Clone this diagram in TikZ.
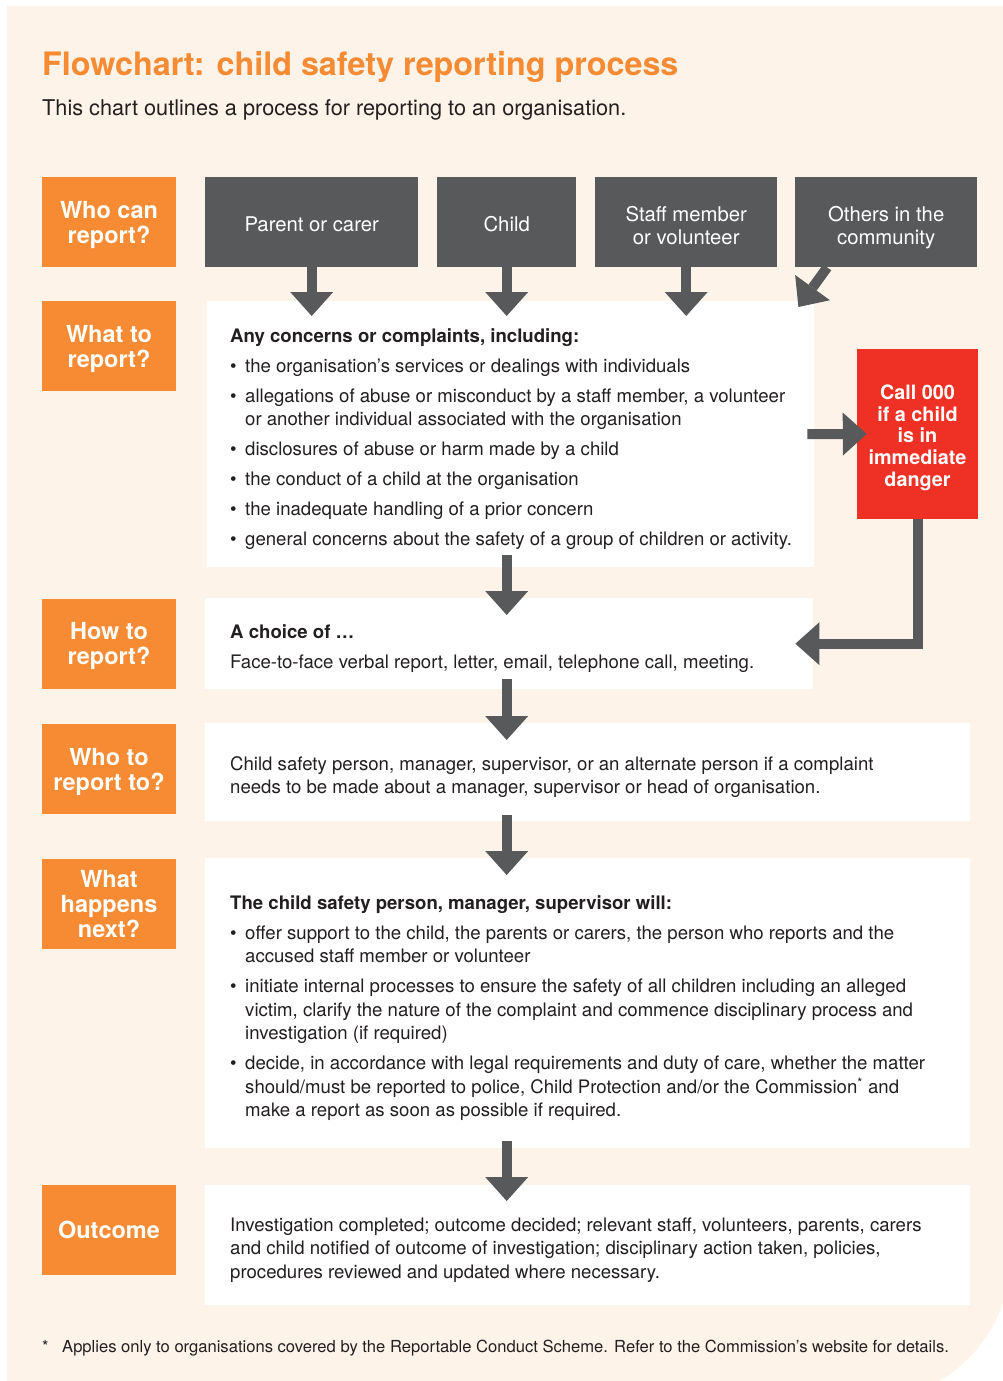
\documentclass[tikz,border=0pt]{standalone}
\usepackage{fontspec}
\setmainfont{TeX Gyre Heros}
\usetikzlibrary{arrows.meta}

\definecolor{paper}{HTML}{FEF3E8}
\definecolor{tangerine}{HTML}{F68B33}
\definecolor{slate}{HTML}{58595B}
\definecolor{alarm}{HTML}{EE3124}
\definecolor{ink}{HTML}{231F20}

\newcommand{\dotitem}{\makebox[15pt][l]{\textbullet}}
\newcommand{\indentline}{\hspace*{15pt}}

\begin{document}
\begin{tikzpicture}[x=1pt, y=-1pt,
                        >={Triangle[length=24pt, width=43pt, line width'=0pt]},
                        every node/.style={inner sep=0pt, text=ink, font=\fontsize{18.6}{23.5}\selectfont},
                        flow/.style={draw=slate, line width=10pt},
                        every edge/.style={flow},
                        question/.style={fill=tangerine, text=white, minimum width=134pt, minimum height=90pt,
                                         align=center, text depth=-4pt, font=\bfseries\fontsize{23.5}{25}\selectfont},
                        source/.style={fill=slate, text=white, anchor=north west, minimum height=90pt,
                                       align=center, text height=19.5pt, font=\fontsize{20.3}{22.5}\selectfont},
                        panel/.style={fill=white, anchor=north west},
                        blurb/.style={anchor=west, align=left, yshift=-5pt},
                        alert/.style={fill=alarm, text=white, minimum width=121pt, minimum height=170pt,
                                      align=center, text height=109pt, font=\bfseries\fontsize{19.8}{21.7}\selectfont}]

                        \useasboundingbox (0,0) rectangle (1003,1381);
                        \fill[paper] (7,6) -- (1011,6) -- (1011,1255)
                            .. controls (1011,1336) and (946,1401) .. (865,1401) -- (7,1401) -- cycle;

                        % Heading
                        \node[anchor=base west, text=tangerine, font=\bfseries\fontsize{32.3}{36}\selectfont] (title) at (42,75) {Flowchart: child safety reporting process};
                        \node[anchor=base west, font=\fontsize{21.7}{24}\selectfont] (subtitle) at (42,115) {This chart outlines a process for reporting to an organisation.};

                        % Row questions
                        \node[question] (whocan) at (109,222) {Who can\\report?};
                        \node[question] (whatto) at (109,346) {What to\\report?};
                        \node[question] (howto) at (109,643.5) {How to\\report?};
                        \node[question] (whoto) at (109,769) {Who to\\report to?};
                        \node[question] (whathappens) at (109,903.5) {What\\happens\\next?};
                        \node[question] (outcomeq) at (109,1230) {Outcome};

                        % Who can report
                        \node[source, minimum width=213pt] (parent) at (205,177) {Parent or carer};
                        \node[source, minimum width=139pt] (child) at (437,177) {Child};
                        \node[source, minimum width=182pt, text height=44pt] (staff) at (595,177) {Staff member\\or volunteer};
                        \node[source, minimum width=182pt, text height=49pt] (others) at (795,177) {Others in the\\community};

                        % Steps (white panels, text set inside them)
                        \node[panel, minimum width=607pt, minimum height=266pt] (concerns) at (207,301) {};
                        \node[panel, minimum width=608pt, minimum height=91pt] (choice) at (205,598) {};
                        \node[panel, minimum width=765pt, minimum height=98pt] (whom) at (205,723) {};
                        \node[panel, minimum width=765pt, minimum height=290pt] (next) at (205,858) {};
                        \node[panel, minimum width=765pt, minimum height=120pt] (outcome) at (205,1185) {};
                        \node[alert] (danger) at (917.5,434) {Call 000\\if a child\\is in\\immediate\\danger};

                        \node[blurb] (concernstext) at ([xshift=23pt]concerns.west) {%
                            {\bfseries Any concerns or complaints, including:}\\[6.5pt]
                            \dotitem the organisation's services or dealings with individuals\\[6.5pt]
                            \dotitem allegations of abuse or misconduct by a staff member, a volunteer\\
                            \indentline or another individual associated with the organisation\\[6.5pt]
                            \dotitem disclosures of abuse or harm made by a child\\[6.5pt]
                            \dotitem the conduct of a child at the organisation\\[6.5pt]
                            \dotitem the inadequate handling of a prior concern\\[6.5pt]
                            \dotitem general concerns about the safety of a group of children or activity.};
                        \node[blurb] (choicetext) at ([xshift=25pt]choice.west) {%
                            {\bfseries A choice of \dots}\\[6.5pt]
                            Face-to-face verbal report, letter, email, telephone call, meeting.};
                        \node[blurb] (whomtext) at ([xshift=25pt]whom.west) {%
                            Child safety person, manager, supervisor, or an alternate person if a complaint\\
                            needs to be made about a manager, supervisor or head of organisation.};
                        \node[blurb] (nexttext) at ([xshift=25pt]next.west) {%
                            {\bfseries The child safety person, manager, supervisor will:}\\[6.5pt]
                            \dotitem offer support to the child, the parents or carers, the person who reports and the\\
                            \indentline accused staff member or volunteer\\[6.5pt]
                            \dotitem initiate internal processes to ensure the safety of all children including an alleged\\
                            \indentline victim, clarify the nature of the complaint and commence disciplinary process and\\
                            \indentline investigation (if required)\\[6.5pt]
                            \dotitem decide, in accordance with legal requirements and duty of care, whether the matter\\
                            \indentline should/must be reported to police, Child Protection and/or the Commission\textsuperscript{*} and\\
                            \indentline make a report as soon as possible if required.};
                        \node[blurb] (outcometext) at ([xshift=25pt]outcome.west) {%
                            Investigation completed; outcome decided; relevant staff, volunteers, parents, carers\\
                            and child notified of outcome of investigation; disciplinary action taken, policies,\\
                            procedures reviewed and updated where necessary.};

                        % Footnote
                        \node[anchor=base west, font=\fontsize{16.6}{19}\selectfont] (note) at (42,1352) {\makebox[20pt][l]{*}Applies only to organisations covered by the Reportable Conduct Scheme. Refer to the Commission's website for details.};

                        % Define edges
                        \path [->](parent) edge[shorten >=-15pt] (parent |- concerns.north);
                        \path [->](child) edge[shorten >=-15pt] (child |- concerns.north);
                        \path [->](staff) edge[shorten >=-15pt] (staff |- concerns.north);
                        \path [->]([xshift=-59pt]others.south) edge ([xshift=-16pt,yshift=-6pt]concerns.north east);
                        \path [->](concerns.east) edge[shorten <=-7pt, shorten >=-10pt] (danger.west);
                        \draw [->, flow, shorten >=-18pt](danger.south) |- (choice.east);
                        \path [->](concerns.south -| child) edge[shorten <=-12pt, shorten >=-17pt] (choice.north -| child);
                        \path [->](choice.south -| child) edge[shorten <=-10pt, shorten >=-17pt] (whom.north -| child);
                        \path [->](whom.south -| child) edge[shorten <=-6pt, shorten >=-17pt] (next.north -| child);
                        \path [->](next.south -| child) edge[shorten <=-7pt, shorten >=-16pt] (outcome.north -| child);
                    \end{tikzpicture}
\end{document}
